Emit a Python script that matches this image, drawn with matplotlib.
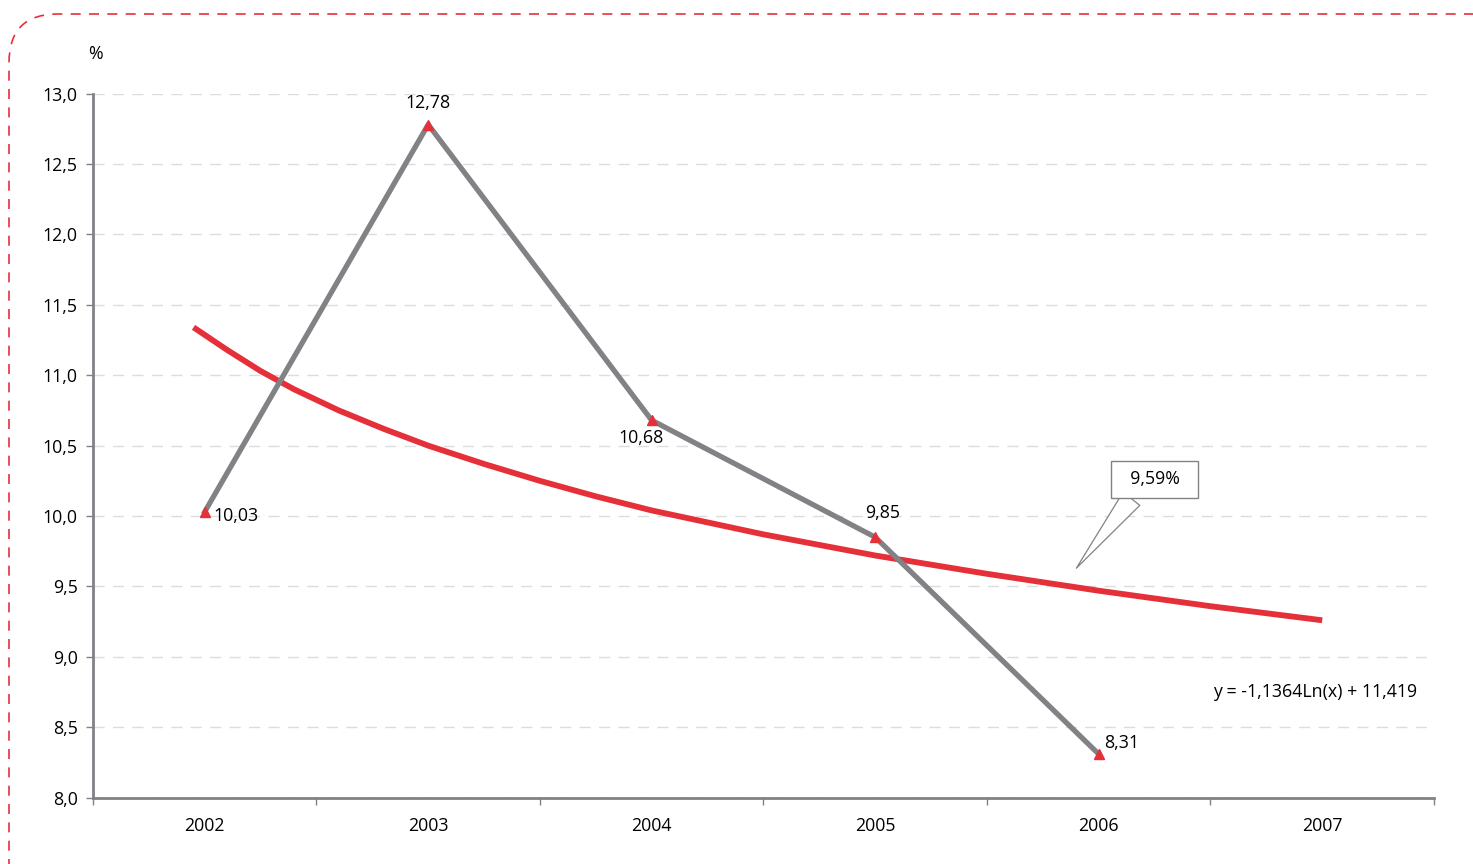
import matplotlib
matplotlib.use("Agg")
import matplotlib.pyplot as plt
from matplotlib.patches import FancyBboxPatch

plt.rcParams['font.family'] = ['Open Sans', 'DejaVu Sans']

# data
years = ['2002', '2003', '2004', '2005', '2006', '2007']
rates = [10.03, 12.78, 10.68, 9.85, 8.31]
rate_labels = ['10,03', '12,78', '10,68', '9,85', '8,31']
# logarithmic trend
trend_pos = [-0.05, 0.1, 0.25, 0.4, 0.6, 0.8, 1.0, 1.25, 1.5, 1.75, 2.0,
             2.5, 3.0, 3.5, 4.0, 4.5, 5.0]
trend_val = [11.34, 11.18, 11.03, 10.90, 10.75, 10.62, 10.50, 10.37, 10.25, 10.14, 10.04,
             9.87, 9.72, 9.59, 9.47, 9.36, 9.26]
trend_eq = 'y = -1,1364Ln(x) + 11,419'
forecast_label = '9,59%'

grey = '#828185'
red = '#e5303a'

fig = plt.figure(figsize=(14.73, 8.64), dpi=100)
ax = fig.add_axes([0.0631, 0.0767, 0.9104, 0.815])

x = list(range(len(rates)))
ax.plot(trend_pos, trend_val, color=red, lw=4.2, solid_capstyle='butt',
        solid_joinstyle='round', zorder=2)
ax.plot(x, rates, color=grey, lw=3.8, zorder=3)
ax.plot(x, rates, ls='none', marker='^', ms=7, color=red, zorder=4)

# point labels
offsets = [(6, -3, 'left', 'center'), (0, 9, 'center', 'bottom'),
           (-8, -6, 'center', 'top'), (5, 11, 'center', 'bottom'),
           (4, 8, 'left', 'center')]
for xi, v, lab, (dx, dy, ha, va) in zip(x, rates, rate_labels, offsets):
    ax.annotate(lab, (xi, v), xytext=(dx, dy), textcoords='offset points',
                ha=ha, va=va, fontsize=12.8, color='black')

# callout for the forecast
ax.annotate('  ' + forecast_label + '  ', xy=(3.9, 9.63), xytext=(4.25, 10.26),
            ha='center', va='center', fontsize=12.8,
            bbox=dict(boxstyle='square,pad=0.55', fc='white', ec=grey, lw=1),
            arrowprops=dict(arrowstyle='wedge,tail_width=1.2', fc='white', ec=grey, lw=0.9,
                            relpos=(0.28, 0.0), shrinkA=0, shrinkB=0))
ax.text(4.51, 8.75, trend_eq, ha='left', va='center', fontsize=12.8)

ax.set_xlim(-0.5, 5.5)
ax.set_ylim(8, 13)
ax.set_yticks([8 + 0.5 * i for i in range(11)])
ax.set_yticklabels([('%.1f' % (8 + 0.5 * i)).replace('.', ',') for i in range(11)], fontsize=12.8)
ax.set_xticks(range(len(years)))
ax.set_xticklabels(years, fontsize=12.8)
ax.set_xticks([i - 0.5 for i in range(len(years) + 1)], minor=True)
ax.tick_params(axis='x', which='major', length=0, pad=14)
ax.tick_params(axis='x', which='minor', length=5, color=grey, width=1)
ax.tick_params(axis='y', length=5, color=grey, width=1, pad=6)

for v in ax.get_yticks():
    ax.axhline(v, color='#dcdcdc', lw=1, ls=(0, (8, 6)), zorder=0)

for s in ['top', 'right']:
    ax.spines[s].set_visible(False)
for s in ['left', 'bottom']:
    ax.spines[s].set_color(grey)
    ax.spines[s].set_linewidth(2)

fig.text(95 / 1473, 1 - 54 / 864, '%', ha='center', va='center', fontsize=12.8)

# dashed rounded frame
frame = FancyBboxPatch((9 / 1473, -0.2), 1.2, 1 - 14 / 864 + 0.2,
                       boxstyle='round,pad=0,rounding_size=0.033',
                       transform=fig.transFigure, fill=False, ec=red, lw=1.2,
                       ls=(0, (6, 5)), mutation_aspect=1473 / 864)
fig.patches.append(frame)

fig.savefig('out.png', dpi=100)
